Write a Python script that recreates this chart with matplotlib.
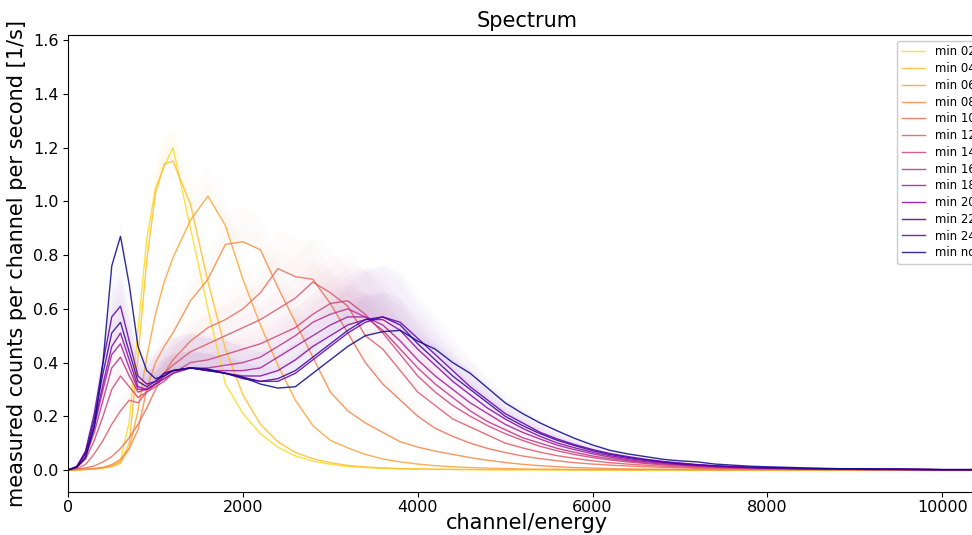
import matplotlib
matplotlib.use("Agg")
import matplotlib.pyplot as plt
import numpy as np

# ---- data ----
channels = ([0, 100, 200, 300, 400, 500, 600, 700, 800, 900, 1000, 1100, 1200]
            + list(range(1400, 8001, 200))
            + [8400, 8800, 9200, 9600, 10000, 10400])

labels = ["min 02", "min 04", "min 06", "min 08", "min 10", "min 12", "min 14",
          "min 16", "min 18", "min 20", "min 22", "min 24", "min nd"]

min_02 = [0.000, 0.000, 0.002, 0.004, 0.008, 0.015, 0.035, 0.18, 0.52, 0.86, 1.05, 1.13, 1.20,
          0.90, 0.60, 0.32, 0.21, 0.135, 0.085, 0.052, 0.033, 0.021, 0.013, 0.009, 0.006, 0.004, 0.003, 0.002, 0.002, 0.001, 0.001,
          0.001, 0.001, 0.001, 0.0, 0.0, 0.0, 0.0, 0.0, 0.0, 0.0, 0.0, 0.0, 0.0, 0.0, 0.0, 0.0,
          0.0, 0.0, 0.0, 0.0, 0.0, 0.0]
min_04 = [0.000, 0.000, 0.002, 0.004, 0.007, 0.012, 0.025, 0.10, 0.42, 0.78, 1.03, 1.14, 1.15,
          0.99, 0.70, 0.45, 0.28, 0.17, 0.105, 0.065, 0.042, 0.027, 0.017, 0.011, 0.008, 0.005, 0.004, 0.003, 0.002, 0.002, 0.001,
          0.001, 0.001, 0.001, 0.001, 0.0, 0.0, 0.0, 0.0, 0.0, 0.0, 0.0, 0.0, 0.0, 0.0, 0.0, 0.0,
          0.0, 0.0, 0.0, 0.0, 0.0, 0.0]
min_06 = [0.000, 0.001, 0.002, 0.004, 0.008, 0.015, 0.03, 0.08, 0.22, 0.42, 0.58, 0.70, 0.79,
          0.93, 1.02, 0.91, 0.71, 0.54, 0.39, 0.26, 0.165, 0.11, 0.082, 0.058, 0.041, 0.03, 0.022, 0.016, 0.012, 0.009, 0.007,
          0.005, 0.004, 0.003, 0.003, 0.002, 0.002, 0.001, 0.001, 0.001, 0.001, 0.001, 0.0, 0.0, 0.0, 0.0, 0.0,
          0.0, 0.0, 0.0, 0.0, 0.0, 0.0]
min_08 = [0.000, 0.001, 0.003, 0.006, 0.01, 0.02, 0.04, 0.08, 0.15, 0.30, 0.40, 0.46, 0.51,
          0.63, 0.71, 0.84, 0.85, 0.82, 0.68, 0.55, 0.42, 0.29, 0.22, 0.175, 0.14, 0.105, 0.085, 0.07, 0.058, 0.046, 0.036,
          0.028, 0.021, 0.016, 0.012, 0.009, 0.007, 0.005, 0.004, 0.003, 0.003, 0.002, 0.002, 0.001, 0.001, 0.001, 0.001,
          0.001, 0.0, 0.0, 0.0, 0.0, 0.0]
min_10 = [0.000, 0.003, 0.008, 0.015, 0.03, 0.05, 0.08, 0.12, 0.17, 0.23, 0.30, 0.36, 0.41,
          0.48, 0.53, 0.56, 0.60, 0.66, 0.75, 0.72, 0.71, 0.62, 0.51, 0.40, 0.32, 0.26, 0.20, 0.155, 0.125, 0.10, 0.08,
          0.065, 0.052, 0.042, 0.034, 0.027, 0.022, 0.018, 0.015, 0.012, 0.01, 0.008, 0.006, 0.005, 0.004, 0.004, 0.003,
          0.002, 0.002, 0.001, 0.001, 0.001, 0.001]
min_12 = [0.000, 0.005, 0.02, 0.06, 0.11, 0.17, 0.22, 0.26, 0.25, 0.29, 0.32, 0.36, 0.39,
          0.44, 0.47, 0.50, 0.53, 0.56, 0.60, 0.64, 0.70, 0.66, 0.61, 0.50, 0.45, 0.37, 0.29, 0.24, 0.19, 0.16, 0.13,
          0.10, 0.082, 0.066, 0.053, 0.043, 0.034, 0.027, 0.022, 0.018, 0.014, 0.011, 0.009, 0.007, 0.006, 0.005, 0.004,
          0.003, 0.002, 0.002, 0.001, 0.001, 0.001]
min_14 = [0.000, 0.01, 0.04, 0.11, 0.20, 0.30, 0.35, 0.31, 0.27, 0.29, 0.31, 0.33, 0.36,
          0.40, 0.41, 0.43, 0.45, 0.47, 0.50, 0.53, 0.58, 0.62, 0.63, 0.58, 0.51, 0.43, 0.35, 0.29, 0.24, 0.20, 0.165,
          0.135, 0.11, 0.088, 0.071, 0.057, 0.046, 0.037, 0.03, 0.024, 0.019, 0.015, 0.012, 0.01, 0.008, 0.006, 0.005,
          0.004, 0.003, 0.002, 0.002, 0.001, 0.001]
min_16 = [0.000, 0.01, 0.05, 0.14, 0.26, 0.38, 0.42, 0.35, 0.29, 0.30, 0.32, 0.34, 0.36,
          0.38, 0.38, 0.39, 0.40, 0.42, 0.46, 0.50, 0.55, 0.58, 0.60, 0.57, 0.52, 0.45, 0.38, 0.32, 0.27, 0.22, 0.18,
          0.15, 0.12, 0.10, 0.08, 0.065, 0.052, 0.042, 0.034, 0.027, 0.022, 0.018, 0.014, 0.011, 0.009, 0.007, 0.006,
          0.004, 0.003, 0.002, 0.002, 0.001, 0.001]
min_18 = [0.000, 0.012, 0.06, 0.16, 0.30, 0.43, 0.47, 0.38, 0.30, 0.30, 0.32, 0.34, 0.36,
          0.38, 0.37, 0.37, 0.37, 0.38, 0.42, 0.46, 0.50, 0.54, 0.57, 0.57, 0.54, 0.48, 0.41, 0.35, 0.30, 0.25, 0.21,
          0.17, 0.14, 0.115, 0.092, 0.075, 0.06, 0.048, 0.038, 0.031, 0.025, 0.02, 0.016, 0.013, 0.01, 0.008, 0.007,
          0.005, 0.003, 0.002, 0.002, 0.001, 0.001]
min_20 = [0.000, 0.012, 0.06, 0.17, 0.32, 0.46, 0.51, 0.41, 0.31, 0.30, 0.32, 0.35, 0.37,
          0.38, 0.37, 0.36, 0.35, 0.35, 0.37, 0.41, 0.46, 0.50, 0.54, 0.56, 0.56, 0.52, 0.45, 0.39, 0.33, 0.28, 0.23,
          0.19, 0.155, 0.125, 0.10, 0.082, 0.066, 0.053, 0.043, 0.035, 0.028, 0.022, 0.018, 0.014, 0.011, 0.009, 0.007,
          0.005, 0.003, 0.002, 0.002, 0.001, 0.001]
min_22 = [0.000, 0.012, 0.065, 0.19, 0.36, 0.51, 0.55, 0.44, 0.33, 0.31, 0.33, 0.36, 0.37,
          0.38, 0.37, 0.36, 0.345, 0.33, 0.34, 0.37, 0.42, 0.47, 0.52, 0.56, 0.57, 0.54, 0.47, 0.41, 0.35, 0.30, 0.25,
          0.20, 0.165, 0.135, 0.11, 0.09, 0.072, 0.058, 0.047, 0.038, 0.03, 0.024, 0.019, 0.015, 0.012, 0.01, 0.008,
          0.005, 0.004, 0.003, 0.002, 0.001, 0.001]
min_24 = [0.000, 0.013, 0.07, 0.21, 0.40, 0.57, 0.61, 0.48, 0.35, 0.32, 0.33, 0.36, 0.37,
          0.38, 0.375, 0.36, 0.34, 0.33, 0.33, 0.36, 0.41, 0.46, 0.51, 0.55, 0.57, 0.55, 0.49, 0.43, 0.37, 0.31, 0.26,
          0.21, 0.175, 0.14, 0.115, 0.094, 0.076, 0.061, 0.05, 0.04, 0.032, 0.026, 0.02, 0.016, 0.013, 0.01, 0.008,
          0.006, 0.004, 0.003, 0.002, 0.001, 0.001]
min_nd = [0.000, 0.01, 0.045, 0.16, 0.40, 0.76, 0.87, 0.69, 0.46, 0.37, 0.34, 0.35, 0.37,
          0.38, 0.375, 0.36, 0.345, 0.32, 0.305, 0.31, 0.36, 0.41, 0.46, 0.50, 0.515, 0.52, 0.48, 0.45, 0.40, 0.36, 0.305,
          0.25, 0.21, 0.175, 0.145, 0.117, 0.093, 0.073, 0.06, 0.05, 0.04, 0.034, 0.03, 0.022, 0.018, 0.014, 0.012,
          0.008, 0.005, 0.004, 0.003, 0.002, 0.002]

series = [min_02, min_04, min_06, min_08, min_10, min_12, min_14,
          min_16, min_18, min_20, min_22, min_24, min_nd]

# colour position in the plasma map and relative uncertainty haze per series
cmap_pos = [0.93, 0.86, 0.79, 0.72, 0.64, 0.57, 0.50, 0.43, 0.35, 0.27, 0.08, 0.18, 0.0]
err_frac = [0.08, 0.10, 0.12, 0.15, 0.20, 0.24, 0.28, 0.30, 0.32, 0.34, 0.34, 0.34, 0.05]

# ---- figure ----
fig = plt.figure(figsize=(9.72, 5.35), dpi=100)
ax = fig.add_axes([0.070, 0.0804, 0.9444, 0.8542])
cmap = plt.get_cmap("plasma")
x = np.array(channels, dtype=float)

for vals, pos, ef in zip(series, cmap_pos, err_frac):
    y = np.array(vals)
    c = cmap(pos)
    ax.fill_between(x, y, y * (1 + ef), color=c, alpha=0.018, lw=0)
    ax.fill_between(x, y, y * (1 + ef / 2), color=c, alpha=0.018, lw=0)

for vals, lab, pos in zip(series, labels, cmap_pos):
    ax.plot(x, vals, color=cmap(pos), lw=1.0, alpha=0.85, label=lab)

ax.set_xlim(0, 10500)
ax.set_ylim(-0.082, 1.62)
ax.set_xticks([0, 2000, 4000, 6000, 8000, 10000])
ax.set_yticks(np.arange(0, 1.61, 0.2))
ax.tick_params(labelsize=11.5)
ax.tick_params(axis="x", pad=2)
ax.set_title("Spectrum", fontsize=15)
ax.set_xlabel("channel/energy", fontsize=15, labelpad=-1)
ax.set_ylabel("measured counts per channel per second [1/s]", fontsize=15, labelpad=4)
ax.legend(loc="upper right", fontsize=8.4, labelspacing=0.32, framealpha=1.0)

fig.savefig("out.png", dpi=100)
